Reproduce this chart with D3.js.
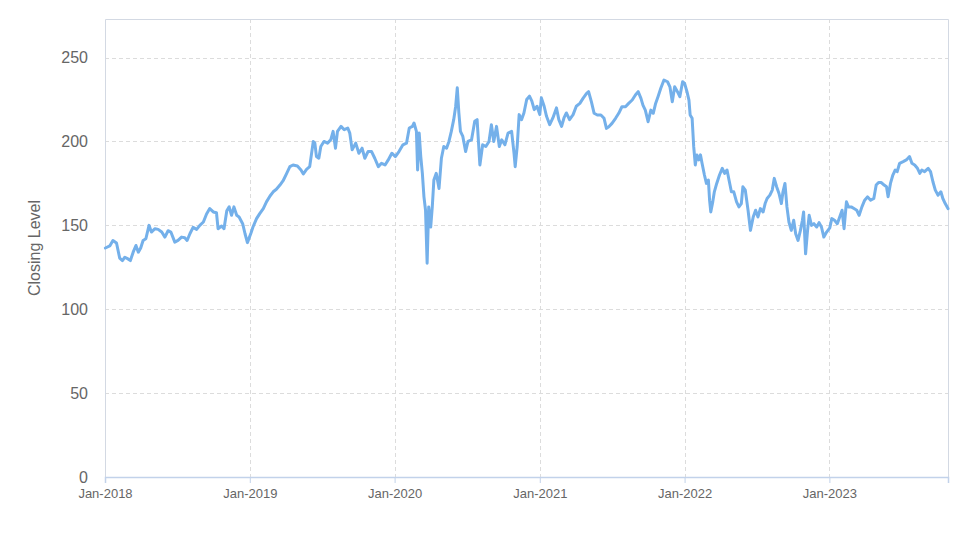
<!DOCTYPE html>
<html>
<head>
<meta charset="utf-8">
<script src="https://cdn.jsdelivr.net/npm/d3@7"></script>
<style>
  html, body { margin: 0; padding: 0; background: #ffffff; }
  svg { display: block; font-family: "Liberation Sans", Arial, Helvetica, sans-serif; }
</style>
</head>
<body>
<svg id="chart" width="974" height="547"></svg>
<script>
// ---- Data ----
const close2018 = [["2018-01-02",136.5],["2018-01-13",137.7],["2018-01-21",141],["2018-01-30",139.5],["2018-02-07",130.5],["2018-02-14",129],["2018-02-20",131],["2018-02-28",130],["2018-03-06",129],["2018-03-13",134],["2018-03-20",138],["2018-03-26",134],["2018-04-01",136.5],["2018-04-07",141],["2018-04-14",142],["2018-04-22",150],["2018-04-28",146],["2018-05-07",148],["2018-05-15",147.6],["2018-05-24",146],["2018-06-01",143],["2018-06-09",146.8],["2018-06-16",146],["2018-06-26",140],["2018-07-04",141],["2018-07-13",143],["2018-07-21",142.6],["2018-07-27",141],["2018-08-03",145],["2018-08-11",148.8],["2018-08-20",147.6],["2018-08-28",150],["2018-09-06",152],["2018-09-14",156.8],["2018-09-22",160],["2018-10-01",158],["2018-10-09",157.5],["2018-10-13",148],["2018-10-22",149.6],["2018-10-28",148],["2018-11-04",158.7],["2018-11-10",161],["2018-11-16",156],["2018-11-22",161],["2018-11-29",156],["2018-12-05",155],["2018-12-14",151],["2018-12-20",145],["2018-12-26",139.7]];
const close2019 = [["2019-01-04",145.4],["2019-01-09",149],["2019-01-18",154],["2019-01-26",157],["2019-02-04",160],["2019-02-12",164],["2019-02-21",167.5],["2019-03-01",170],["2019-03-09",171.5],["2019-03-18",174],["2019-03-26",176.6],["2019-04-04",181],["2019-04-12",185],["2019-04-20",186],["2019-05-01",185.4],["2019-05-10",183],["2019-05-16",180.6],["2019-05-24",183.4],["2019-06-01",185],["2019-06-10",200],["2019-06-14",199],["2019-06-18",191],["2019-06-24",190],["2019-06-29",197],["2019-07-07",200],["2019-07-16",199],["2019-07-24",201],["2019-07-30",206],["2019-08-05",196],["2019-08-10",206],["2019-08-19",209],["2019-08-27",207],["2019-09-05",208],["2019-09-10",205],["2019-09-16",195],["2019-09-25",199],["2019-10-03",193],["2019-10-11",196],["2019-10-18",190],["2019-10-26",194],["2019-11-04",194],["2019-11-12",190],["2019-11-21",185],["2019-11-29",187],["2019-12-08",186],["2019-12-16",189],["2019-12-25",193]];
const close2020 = [["2020-01-03",191],["2020-01-12",194],["2020-01-22",198],["2020-01-31",199],["2020-02-07",208],["2020-02-15",209],["2020-02-19",211],["2020-02-25",206],["2020-02-28",183],["2020-03-03",205],["2020-03-07",191],["2020-03-11",181],["2020-03-15",167],["2020-03-19",159],["2020-03-23",127.4],["2020-03-27",161],["2020-04-01",149],["2020-04-05",161],["2020-04-09",177],["2020-04-15",181],["2020-04-22",172],["2020-04-28",190],["2020-05-04",197],["2020-05-11",196],["2020-05-17",200],["2020-05-23",206],["2020-05-29",213],["2020-06-03",221],["2020-06-07",232],["2020-06-11",217],["2020-06-15",206],["2020-06-21",203],["2020-06-28",194],["2020-07-04",200],["2020-07-13",201],["2020-07-21",212],["2020-07-27",213],["2020-08-03",186],["2020-08-10",198],["2020-08-18",197],["2020-08-26",200],["2020-09-01",210],["2020-09-07",200],["2020-09-14",209],["2020-09-21",197],["2020-09-27",201],["2020-10-05",198],["2020-10-13",205],["2020-10-22",206],["2020-10-28",193],["2020-10-31",185],["2020-11-05",197],["2020-11-10",216],["2020-11-16",213],["2020-11-22",217],["2020-11-29",225],["2020-12-06",227],["2020-12-12",224],["2020-12-18",219],["2020-12-25",221]];
const close2021 = [["2021-01-01",216],["2021-01-05",226],["2021-01-12",221],["2021-01-18",215],["2021-01-26",210],["2021-02-03",214],["2021-02-12",220],["2021-02-18",213],["2021-02-25",209],["2021-03-03",214],["2021-03-09",217],["2021-03-17",213],["2021-03-26",216],["2021-04-03",221],["2021-04-12",222.7],["2021-04-20",225.7],["2021-04-29",228.7],["2021-05-04",229.7],["2021-05-11",223.7],["2021-05-18",216.8],["2021-05-26",215.8],["2021-06-04",215.8],["2021-06-12",213.8],["2021-06-18",207.8],["2021-06-24",208.8],["2021-07-02",210.8],["2021-07-11",213.8],["2021-07-19",216.8],["2021-07-27",220.7],["2021-08-05",220.7],["2021-08-13",222.7],["2021-08-22",224.7],["2021-08-30",227.7],["2021-09-06",229.7],["2021-09-13",225.7],["2021-09-18",221.7],["2021-09-24",218.7],["2021-10-01",211.8],["2021-10-08",218.7],["2021-10-14",216.8],["2021-10-20",222.7],["2021-10-26",226.7],["2021-11-02",231.7],["2021-11-10",236.6],["2021-11-19",235.6],["2021-11-25",232.6],["2021-12-01",223.7],["2021-12-07",232.6],["2021-12-14",229.7],["2021-12-20",226.7],["2021-12-27",235.6]];
const close2022 = [["2022-01-01",234.6],["2022-01-07",229.7],["2022-01-12",224.7],["2022-01-15",215.8],["2022-01-20",213.8],["2022-01-24",196.9],["2022-01-28",186],["2022-02-01",192],["2022-02-06",189],["2022-02-10",192],["2022-02-14",187],["2022-02-20",180],["2022-02-25",175],["2022-03-02",177],["2022-03-05",165],["2022-03-08",158],["2022-03-13",164],["2022-03-17",170],["2022-03-23",175],["2022-03-30",180],["2022-04-06",184],["2022-04-12",181],["2022-04-18",183],["2022-04-23",177],["2022-04-29",170],["2022-05-05",170],["2022-05-12",164],["2022-05-18",161],["2022-05-24",163],["2022-05-28",173],["2022-06-03",171],["2022-06-10",159],["2022-06-16",147],["2022-06-23",155],["2022-06-29",159],["2022-07-05",155],["2022-07-11",160],["2022-07-18",158],["2022-07-23",163],["2022-07-28",166],["2022-08-04",168],["2022-08-10",171],["2022-08-15",178],["2022-08-21",173],["2022-08-27",169],["2022-09-02",163],["2022-09-06",170],["2022-09-11",175],["2022-09-16",161],["2022-09-21",152],["2022-09-27",147],["2022-10-03",153],["2022-10-08",145],["2022-10-14",141],["2022-10-20",147],["2022-10-25",153],["2022-10-28",158],["2022-11-02",133],["2022-11-07",147],["2022-11-11",156],["2022-11-17",150],["2022-11-23",151],["2022-11-30",149],["2022-12-06",151.6],["2022-12-12",149],["2022-12-18",143],["2022-12-25",146]];
const close2023 = [["2023-01-02",148.5],["2023-01-07",154],["2023-01-14",153],["2023-01-21",151],["2023-01-27",155],["2023-02-02",159],["2023-02-07",148],["2023-02-13",164],["2023-02-18",161],["2023-02-25",161],["2023-03-04",160],["2023-03-11",159],["2023-03-17",156],["2023-03-24",161],["2023-03-31",165],["2023-04-07",167],["2023-04-15",165],["2023-04-23",166],["2023-04-29",174],["2023-05-05",175.5],["2023-05-12",175.5],["2023-05-19",174],["2023-05-25",173],["2023-05-29",167],["2023-06-04",175],["2023-06-10",180],["2023-06-16",183],["2023-06-21",182],["2023-06-27",187],["2023-07-06",188],["2023-07-14",189],["2023-07-22",191],["2023-07-28",187],["2023-08-04",186],["2023-08-11",184],["2023-08-17",181],["2023-08-22",183],["2023-08-29",182],["2023-09-07",184],["2023-09-13",182],["2023-09-19",176],["2023-09-25",171],["2023-10-02",168],["2023-10-09",170],["2023-10-14",166],["2023-10-20",163],["2023-10-27",160]];

const yTicks = [0, 50, 100, 150, 200, 250];
const xTickLabels = ["Jan-2018", "Jan-2019", "Jan-2020", "Jan-2021", "Jan-2022", "Jan-2023"];
const yAxisTitle = "Closing Level";
const dateStart = "2018-01-01";
const dateEnd = "2023-10-27";
const yMax = 273;

// ---- Build ----
const parse = d3.timeParse("%Y-%m-%d");
const series = [].concat(close2018, close2019, close2020, close2021, close2022, close2023)
  .map(([d, v]) => ({ date: parse(d), value: v }));

const svg = d3.select("#chart");
const W = 974, H = 547;
const plot = { left: 105, right: 948, top: 19, bottom: 477 };

svg.append("rect").attr("width", W).attr("height", H).attr("fill", "#ffffff");

const x = d3.scaleTime().domain([parse(dateStart), parse(dateEnd)]).range([plot.left, plot.right]);
const y = d3.scaleLinear().domain([0, yMax]).range([plot.bottom, plot.top]);

const tickDates = xTickLabels.map(s => d3.timeParse("%b-%Y")(s));

// grid
const grid = svg.append("g");
grid.selectAll("line.h").data(yTicks.filter(t => t > 0)).enter().append("line")
  .attr("x1", plot.left).attr("x2", plot.right)
  .attr("y1", d => Math.round(y(d)) + 0.5).attr("y2", d => Math.round(y(d)) + 0.5)
  .attr("stroke", "#dcdcdc").attr("stroke-width", 1).attr("stroke-dasharray", "4,3");
grid.selectAll("line.v").data(tickDates.slice(1)).enter().append("line")
  .attr("x1", d => Math.round(x(d)) + 0.5).attr("x2", d => Math.round(x(d)) + 0.5)
  .attr("y1", plot.top).attr("y2", plot.bottom)
  .attr("stroke", "#dcdcdc").attr("stroke-width", 1).attr("stroke-dasharray", "4,3");

// plot border (left, top, right)
svg.append("path")
  .attr("d", `M${plot.left + 0.5},${plot.bottom} V${plot.top + 0.5} H${plot.right + 0.5} V${plot.bottom}`)
  .attr("fill", "none").attr("stroke", "#d3d9e3").attr("stroke-width", 1);

// x axis
const xAxis = d3.axisBottom(x).tickValues(tickDates).tickFormat((d, i) => xTickLabels[i]).tickSize(6).tickPadding(6);
const gx = svg.append("g").attr("transform", `translate(0,${plot.bottom})`).call(xAxis);
gx.select(".domain").attr("stroke", "#c2d2ea").attr("stroke-width", 1.5);
gx.selectAll(".tick line").attr("stroke", "#c2d2ea");
gx.selectAll(".tick text").attr("fill", "#666666").style("font-size", "13px")
  .style("font-family", "'Liberation Sans', Arial, sans-serif");

// y axis
const yAxis = d3.axisLeft(y).tickValues(yTicks).tickSize(0).tickPadding(17);
const gy = svg.append("g").attr("transform", `translate(${plot.left},0)`).call(yAxis);
gy.select(".domain").remove();
gy.selectAll(".tick text").attr("fill", "#666666").style("font-size", "16px")
  .style("font-family", "'Liberation Sans', Arial, sans-serif");

// y title
svg.append("text")
  .attr("transform", `translate(40,${(plot.top + plot.bottom) / 2 + 0}) rotate(-90)`)
  .attr("text-anchor", "middle")
  .attr("fill", "#666666").style("font-size", "16px")
  .text(yAxisTitle);

// line
const line = d3.line().x(d => x(d.date)).y(d => y(d.value)).curve(d3.curveLinear);
svg.append("path").datum(series)
  .attr("d", line)
  .attr("fill", "none")
  .attr("stroke", "#74b0ea")
  .attr("stroke-width", 3)
  .attr("stroke-linejoin", "round")
  .attr("stroke-linecap", "round");
</script>
</body>
</html>
